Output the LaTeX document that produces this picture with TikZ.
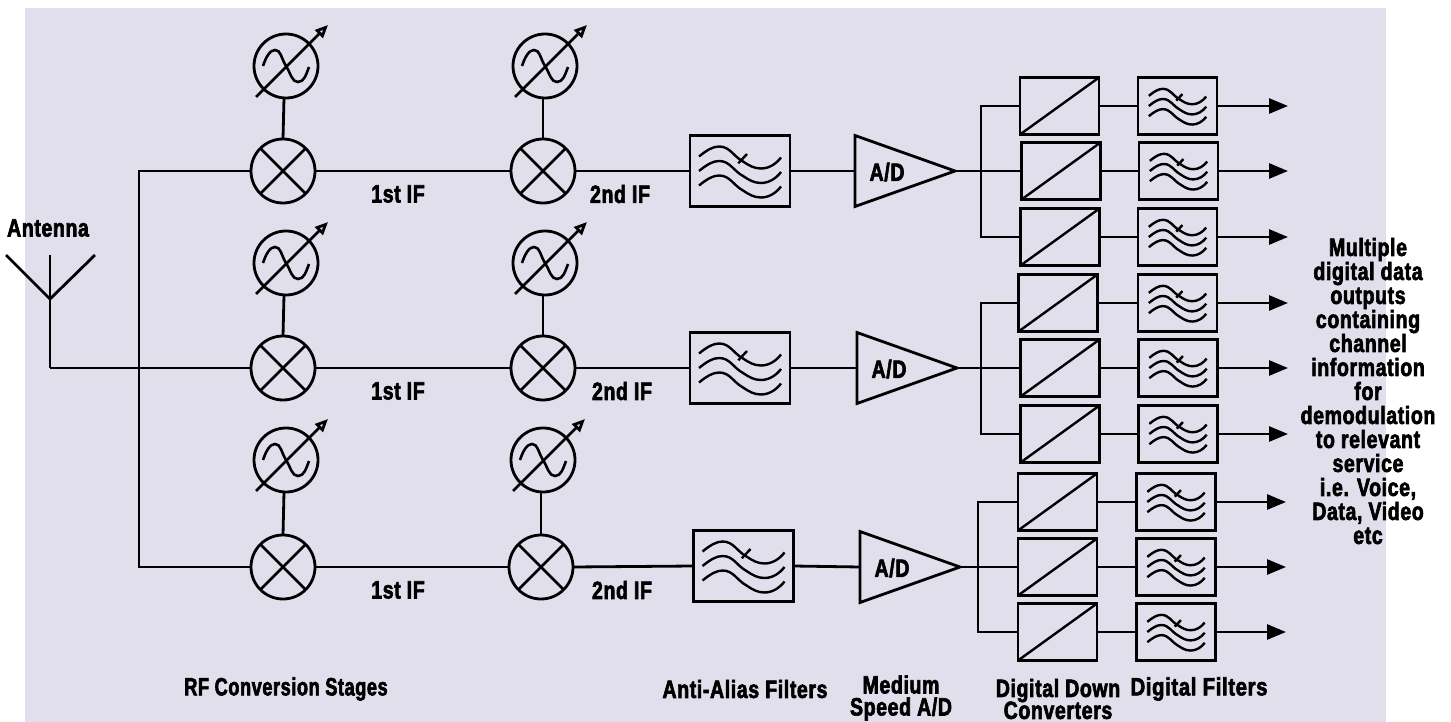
\documentclass[tikz,border=0pt]{standalone}
\usepackage{fontspec}
\usetikzlibrary{arrows.meta,shapes.geometric,calc}
\setmainfont{Liberation Sans}[BoldFont={Liberation Sans Bold},BoldFeatures={FakeStretch=0.78,FakeBold=2.5,LetterSpace=2.5}]
\definecolor{bgc}{HTML}{E2DFED}
\tikzset{
 wire/.style={line width=2.8pt,line join=miter},
 ring/.style={circle,draw,line width=2.8pt,minimum size=64pt,inner sep=0pt,outer sep=0pt},
 bigbox/.style={rectangle,draw,line width=2.8pt,minimum width=100pt,minimum height=71pt,inner sep=0pt,outer sep=0pt},
 ddcbox/.style={rectangle,draw,line width=2.8pt,minimum width=79pt,minimum height=57pt,inner sep=0pt,outer sep=0pt},
 adtri/.style={isosceles triangle,isosceles triangle stretches,draw,line width=2.8pt,minimum width=71pt,minimum height=100pt,inner sep=0pt,outer sep=0pt,anchor=lower side,shape border rotate=0},
 lab/.style={font=\bfseries\fontsize{25}{24}\selectfont,inner sep=0pt,align=center},
 outarrow/.style={line width=2.8pt,-{Triangle[length=19pt,width=15pt]}},
 tunearrow/.style={line width=2.8pt,-{Triangle[open,length=13pt,width=11pt,fill=bgc]}}
}
\newcommand{\wavesat}[2]{%
 \begin{scope}[shift={(#1)},scale=#2,line width=2.4pt]
  \foreach \d in {0,14.5,29}{
   \draw[shift={(0,\d)}] (-41,-14.5) .. controls (-33,-21) and (-27,-24.5) .. (-21,-24.5)
     .. controls (-10,-24.5) and (-7,-15) .. (3,-9.5)
     .. controls (9,-5.5) and (14,-2.5) .. (21,-2.5)
     .. controls (29,-2.5) and (36,-7) .. (41,-13.5);
  }
  \draw (-1.7,-7.7) -- (7,-17);
 \end{scope}}
\newcommand{\rfrow}[7]{% id, y, x1, x2, yosc, ox1, ox2
 \node[ring] (#1m1) at (#3,#2) {};
 \node[ring] (#1m2) at (#4,#2) {};
 \node[ring] (#1o1) at (#6,#5) {};
 \node[ring] (#1o2) at (#7,#5) {};
 \foreach \k in {m1,m2}{
  \draw[wire] (#1\k.45) -- (#1\k.225);
  \draw[wire] (#1\k.135) -- (#1\k.315);
 }
 \foreach \k in {o1,o2}{
  \draw[line width=2.6pt] ($(#1\k)+(-23,0)$) .. controls +(3,-9) and +(-5,0) .. ($(#1\k)+(-11,-16)$)
     .. controls +(6,0) and +(-5,-8) .. (#1\k.center)
     .. controls +(5,8) and +(-6,0) .. ($(#1\k)+(12,16)$)
     .. controls +(6,0) and +(-3,8) .. ($(#1\k)+(23,1)$);
  \draw[tunearrow] ($(#1\k)+(-30,31)$) -- ($(#1\k)+(42,-41)$);
 }
 \draw[wire] (#1o1) ++(-2,32) -- (#1m1.north);
 \draw[wire] (#1o2) ++(-2,32) -- (#1m2.north);
 \draw[wire] (#1m1) -- (#1m2);
}
\newcommand{\outrow}[5]{% id, y, xd, xf, tip
 \node[ddcbox] (#1d) at (#3,#2) {};
 \node[ddcbox] (#1f) at (#4,#2) {};
 \draw[line width=2.4pt] (#1d.south west) -- (#1d.north east);
 \wavesat{#1f}{0.7}
 \draw[wire] (#1d) -- (#1f);
 \coordinate (#1t) at (#5,#2);
 \draw[outarrow] (#1f) -- (#1t);
}
\begin{document}
\begin{tikzpicture}[x=1pt,y=-1pt]
\useasboundingbox (0,0) rectangle (1451,722);
\fill[bgc] (25,8) rectangle (1386,722);

% antenna and trunk
\coordinate (apex) at (50,299);
\coordinate (armL) at (6,255);
\coordinate (armR) at (95,255);
\coordinate (armC) at (50,255);
\coordinate (feed) at (50,368);
\coordinate (trunkT) at (139,171);
\coordinate (trunkB) at (139,567);
\draw[wire] (armL) -- (apex) -- (armR);
\draw[wire] (armC) -- (apex) -- (feed);

% RF rows
\rfrow{a}{171}{283}{543}{66}{286}{545}
\rfrow{b}{368}{283}{543}{263}{286}{545}
\rfrow{c}{567}{283}{541}{460}{286}{543}

\draw[wire] (feed) -- (bm1.west);
\draw[wire] (am1.west) -- (trunkT) -- (trunkB) -- (cm1.west);

% filters
\node[bigbox] (af) at (740,171) {};
\node[bigbox] (bf) at (740,368) {};
\node[bigbox] (cf) at (743.5,566) {};
\wavesat{af}{1}
\wavesat{bf}{1}
\wavesat{cf}{1}

% A/D
\node[adtri] (aad) at (855,171) {};
\node[adtri] (bad) at (857,368) {};
\node[adtri] (cad) at (860,567) {};
\node[lab] at (887,172) {A/D};
\node[lab] at (889,369) {A/D};
\node[lab] at (892,568) {A/D};

\draw[wire] (am2.east) -- (af.west);
\draw[wire] (bm2.east) -- (bf.west);
\draw[wire] (cm2.east) -- (cf.west);
\draw[wire] (af.east) -- (aad.lower side);
\draw[wire] (bf.east) -- (bad.lower side);
\draw[wire] (cf.east) -- (cad.lower side);

% outputs
\outrow{a1}{106}{1059.5}{1177.5}{1288}
\outrow{a2}{171}{1061}{1178.5}{1288}
\outrow{a3}{237}{1060}{1177.5}{1288}
\outrow{b1}{303}{1058}{1177.5}{1288}
\outrow{b2}{368}{1060}{1178}{1288}
\outrow{b3}{434}{1060}{1178}{1288}
\outrow{c1}{502}{1057.5}{1176}{1286}
\outrow{c2}{567}{1057.5}{1176}{1286}
\outrow{c3}{632}{1057.5}{1176}{1286}

\coordinate (abr) at (981,171);
\coordinate (bbr) at (981,368);
\coordinate (cbr) at (978,567);
\draw[wire] (aad.apex) -- (a2d.west);
\draw[wire] (bad.apex) -- (b2d.west);
\draw[wire] (cad.apex) -- (c2d.west);
\draw[wire] (a1d.west) -| (abr) |- (a3d.west);
\draw[wire] (b1d.west) -| (bbr) |- (b3d.west);
\draw[wire] (c1d.west) -| (cbr) |- (c3d.west);

% labels
\node[lab] (antlab) at (48,228) {Antenna};
\node[lab] at (398,194) {1st IF};
\node[lab] at (398,391) {1st IF};
\node[lab] at (398,590) {1st IF};
\node[lab] at (620,194) {2nd IF};
\node[lab] at (622,391) {2nd IF};
\node[lab] at (622,590) {2nd IF};
\node[lab] at (286,689) {\scalebox{.93}[1]{RF Conversion Stages}};
\node[lab] at (745,689) {Anti-Alias Filters};
\node[lab] at (901,698) {Medium\\[-2pt]Speed A/D};
\node[lab] at (1058,699) {Digital Down\\[-2pt]Converters};
\node[lab] at (1199,689) {\scalebox{1.04}[1]{Digital Filters}};
\node[lab] at (1368,391) {Multiple\\digital data\\outputs\\containing\\channel\\information\\for\\demodulation\\to relevant\\service\\i.e. Voice,\\Data, Video\\etc};
\end{tikzpicture}
\end{document}
